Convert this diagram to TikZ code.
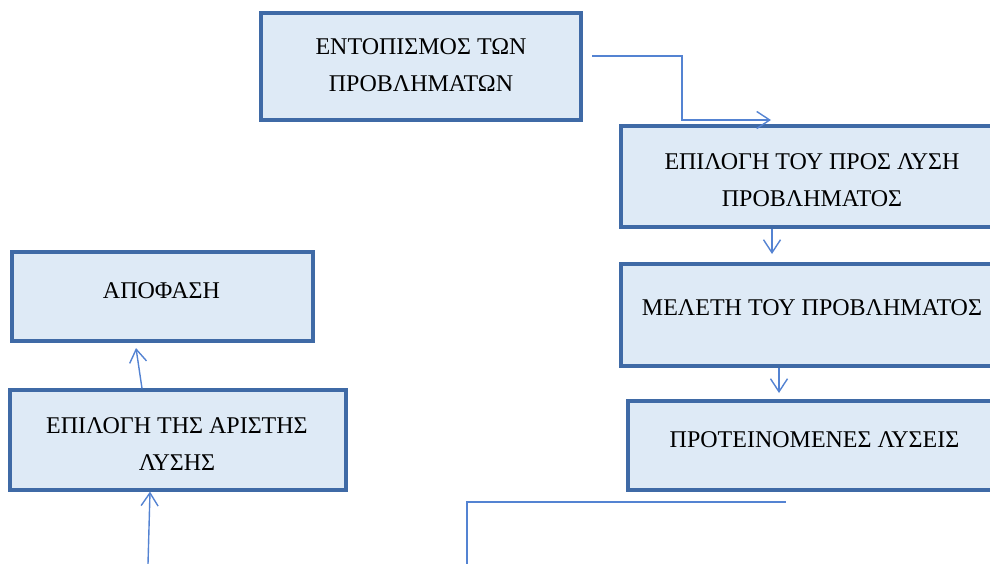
\documentclass[tikz,border=0pt]{standalone}
\usepackage{fontspec}
\setmainfont{Liberation Serif}
\usetikzlibrary{arrows.meta}
\definecolor{boxfill}{HTML}{DEEAF6}
\definecolor{boxline}{HTML}{3F6AA6}
\definecolor{linkline}{HTML}{5483D2}
\begin{document}
\begin{tikzpicture}[x=1pt,y=-1pt,
  box/.style={rectangle,draw=boxline,fill=boxfill,line width=3.2pt,inner sep=0pt},
  boxtext/.style={font=\fontsize{24}{37}\selectfont,align=center,inner sep=0pt,text=black},
  conn/.style={draw=linkline,line width=1.4pt,-{Straight Barb[length=13pt,width=17pt]}},
  plainlink/.style={draw=linkline,line width=1.4pt}]
\useasboundingbox (0,0) rectangle (990,564);
\begin{scope}
  \clip (0,0) rectangle (990,564);
  % boxes
  \node[box,minimum width=320pt,minimum height=107pt] (b1) at (421,66.5) {};
  \node[box,minimum width=382pt,minimum height=101pt] (b2) at (812,176.5) {};
  \node[box,minimum width=382pt,minimum height=102pt] (b3) at (812,315) {};
  \node[box,minimum width=373pt,minimum height=89pt] (b4) at (814.5,445.5) {};
  \node[box,minimum width=301pt,minimum height=89pt] (b5) at (162.5,296.5) {};
  \node[box,minimum width=336pt,minimum height=100pt] (b6) at (178,440) {};
  % box captions
  \node[boxtext] (t1) at (421,65.5) {ΕΝΤΟΠΙΣΜΟΣ ΤΩΝ\\ΠΡΟΒΛΗΜΑΤΩΝ};
  \node[boxtext] (t2) at (812,180.5) {ΕΠΙΛΟΓΗ ΤΟΥ ΠΡΟΣ ΛΥΣΗ\\ΠΡΟΒΛΗΜΑΤΟΣ};
  \node[boxtext] (t3) at (812,308) {ΜΕΛΕΤΗ ΤΟΥ ΠΡΟΒΛΗΜΑΤΟΣ};
  \node[boxtext] (t4) at (814.5,440) {ΠΡΟΤΕΙΝΟΜΕΝΕΣ ΛΥΣΕΙΣ};
  \node[boxtext] (t5) at (161.5,291) {ΑΠΟΦΑΣΗ};
  \node[boxtext] (t6) at (177,444) {ΕΠΙΛΟΓΗ ΤΗΣ ΑΡΙΣΤΗΣ\\ΛΥΣΗΣ};
  % connector end points
  \coordinate (s1) at (592,56);
  \coordinate (k1) at (682,120);
  \coordinate (e1) at (771,120);
  \coordinate (e2) at (772,254);
  \coordinate (e3) at (779,393);
  \coordinate (x4) at (142,0);
  \coordinate (e4) at (136,348);
  \coordinate (s5) at (148,564);
  \coordinate (x5) at (150,0);
  \coordinate (s6) at (467,564);
  \coordinate (e6) at (786,502);
  % connectors
  \draw[conn] (s1) -| (k1) -- (e1);
  \draw[conn] (b2.south -| e2) -- (e2);
  \draw[conn] (b3.south -| e3) -- (e3);
  \draw[conn] (b6.north -| x4) -- (e4);
  \draw[conn] (s5) -- (b6.south -| x5);
  \draw[plainlink] (s6) |- (e6);
\end{scope}
\end{tikzpicture}
\end{document}
